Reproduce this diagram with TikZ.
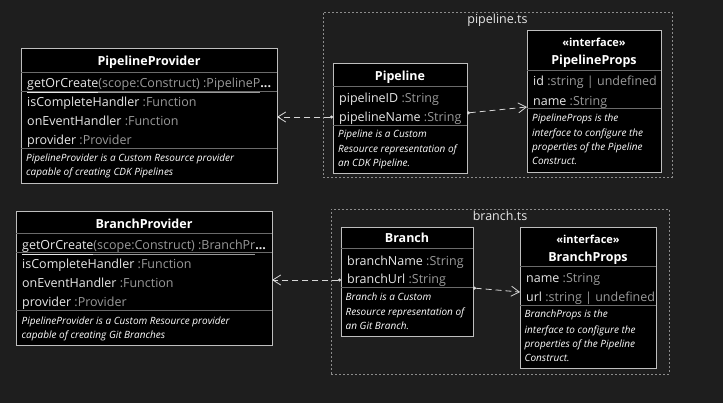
\documentclass[tikz,border=0pt]{standalone}
\usepackage{fontspec}
\setmainfont{Open Sans}
\usetikzlibrary{arrows.meta,calc}
\definecolor{bg}{HTML}{1E1E1E}
\definecolor{boxline}{HTML}{BEBEBE}
\definecolor{sepline}{HTML}{6A6A6A}
\definecolor{attrc}{HTML}{E8E8E8}
\definecolor{typ}{HTML}{9A9A9A}
\definecolor{pkg}{HTML}{8C8C8C}
\definecolor{conn}{HTML}{D8D8D8}
\begin{document}
\begin{tikzpicture}[x=1pt,y=-1pt,
  umlbox/.style={draw=boxline, fill=black, line width=0.9pt, inner sep=0pt, outer sep=0pt, anchor=north west},
  sep/.style={draw=sepline, line width=0.9pt},
  pkgbox/.style={draw=pkg, dash pattern=on 2pt off 2pt, line width=0.7pt, inner sep=0pt, outer sep=0pt, anchor=north west},
  ttl/.style={font=\fontsize{12.5}{14}\selectfont\bfseries, text=white, inner sep=0pt, anchor=base},
  attr/.style={font=\fontsize{12.5}{14}\selectfont, text=attrc, inner sep=0pt, anchor=base west},
  note/.style={font=\fontsize{10}{12}\selectfont\itshape, text=white, inner sep=0pt, anchor=base west},
  pkglabel/.style={font=\fontsize{12.5}{14}\selectfont, text=attrc, inner sep=0pt, anchor=base},
  dep/.style={draw=conn, line width=0.8pt, dash pattern=on 6pt off 4pt, {Circle[length=3pt]}-{Straight Barb[length=8pt,width=10pt]}},
]
\fill[bg] (0,0) rectangle (723,403);
\useasboundingbox (0,0) rectangle (723,403);

% ---------- packages ----------
\node[pkgbox, minimum width=349pt, minimum height=165pt] (pkgpl) at (323,12) {};
\node[pkglabel] (pkgpllbl) at (497.5,23.5) {pipeline.ts};
\node[pkgbox, minimum width=338pt, minimum height=165pt] (pkgbr) at (331,209) {};
\node[pkglabel] (pkgbrlbl) at (500,220.2) {branch.ts};

% ---------- PipelineProvider ----------
\node[umlbox, minimum width=256pt, minimum height=135pt] (pprov) at (21,48) {};
\draw[sep] (pprov.west |- 0,72) -- (pprov.east |- 0,72);
\draw[sep] (pprov.west |- 0,91) -- (pprov.east |- 0,91);
\draw[sep] (pprov.west |- 0,148) -- (pprov.east |- 0,148);
\node[ttl] (pprovt) at (149,65.2) {PipelineProvider};
\node[attr] (pprova) at (27,87.5) {\underline{getOrCreate\vphantom{()}}\textcolor{typ}{\underline{(scope:Construct) :PipelineP}}\textbf{...}};
\node[attr] (pprovb) at (27,106.2) {isCompleteHandler \textcolor{typ}{:Function}};
\node[attr] (pprovc) at (27,125.2) {onEventHandler \textcolor{typ}{:Function}};
\node[attr] (pprovd) at (27,144.5) {provider \textcolor{typ}{:Provider}};
\node[note] (pprovn1) at (26,161.9) {PipelineProvider is a Custom Resource provider};
\node[note] (pprovn2) at (26,175.9) {capable of creating CDK Pipelines};

% ---------- Pipeline ----------
\node[umlbox, minimum width=134pt, minimum height=110pt] (pl) at (333,63) {};
\draw[sep] (pl.west |- 0,86) -- (pl.east |- 0,86);
\draw[sep] (pl.west |- 0,125) -- (pl.east |- 0,125);
\node[ttl] (plt) at (400,80.2) {Pipeline};
\node[attr] (pla) at (339,102.2) {pipelineID \textcolor{typ}{:String}};
\node[attr] (plb) at (339,121.2) {pipelineName \textcolor{typ}{:String}};
\node[note] (pln1) at (338,137.9) {Pipeline is a Custom};
\node[note] (pln2) at (338,152.6) {Resource representation of};
\node[note] (pln3) at (338,166.9) {an CDK Pipeline.};

% ---------- PipelineProps ----------
\node[umlbox, minimum width=134pt, minimum height=142pt] (pps) at (527,30) {};
\draw[sep] (pps.west |- 0,70) -- (pps.east |- 0,70);
\draw[sep] (pps.west |- 0,108.3) -- (pps.east |- 0,108.3);
\node[ttl, font=\fontsize{11}{13}\selectfont\bfseries] (ppst1) at (594,46.8) {«interface»};
\node[ttl] (ppst2) at (594,64.5) {PipelineProps};
\node[attr] (ppsa) at (533,85.5) {id \textcolor{typ}{:string | undefined}};
\node[attr] (ppsb) at (533,105.2) {name \textcolor{typ}{:String}};
\node[note] (ppsn1) at (532,121.9) {PipelineProps is the};
\node[note] (ppsn2) at (532,136.3) {interface to configure the};
\node[note] (ppsn3) at (532,150.3) {properties of the Pipeline};
\node[note] (ppsn4) at (532,164.9) {Construct.};

% ---------- BranchProvider ----------
\node[umlbox, minimum width=256pt, minimum height=134pt] (bprov) at (16,211) {};
\draw[sep] (bprov.west |- 0,233.3) -- (bprov.east |- 0,233.3);
\draw[sep] (bprov.west |- 0,252.7) -- (bprov.east |- 0,252.7);
\draw[sep] (bprov.west |- 0,310) -- (bprov.east |- 0,310);
\node[ttl] (bprovt) at (144,228.5) {BranchProvider};
\node[attr] (bprova) at (22,249.5) {\underline{getOrCreate\vphantom{()}}\textcolor{typ}{\underline{(scope:Construct) :BranchPr}}\textbf{...}};
\node[attr] (bprovb) at (22,268.8) {isCompleteHandler \textcolor{typ}{:Function}};
\node[attr] (bprovc) at (22,287.8) {onEventHandler \textcolor{typ}{:Function}};
\node[attr] (bprovd) at (22,306.2) {provider \textcolor{typ}{:Provider}};
\node[note] (bprovn1) at (21.5,324.3) {PipelineProvider is a Custom Resource provider};
\node[note] (bprovn2) at (21.5,338.6) {capable of creating Git Branches};

% ---------- Branch ----------
\node[umlbox, minimum width=132pt, minimum height=109pt] (br) at (341,227) {};
\draw[sep] (br.west |- 0,248.3) -- (br.east |- 0,248.3);
\draw[sep] (br.west |- 0,287.3) -- (br.east |- 0,287.3);
\node[ttl] (brt) at (407,242.8) {Branch};
\node[attr] (bra) at (347,265.2) {branchName \textcolor{typ}{:String}};
\node[attr] (brb) at (347,283.8) {branchUrl \textcolor{typ}{:String}};
\node[note] (brn1) at (345.5,300.3) {Branch is a Custom};
\node[note] (brn2) at (345.5,315.3) {Resource representation of};
\node[note] (brn3) at (345.5,329.3) {an Git Branch.};

% ---------- BranchProps ----------
\node[umlbox, minimum width=136pt, minimum height=141pt] (bps) at (520,227) {};
\draw[sep] (bps.west |- 0,266.7) -- (bps.east |- 0,266.7);
\draw[sep] (bps.west |- 0,305.7) -- (bps.east |- 0,305.7);
\node[ttl, font=\fontsize{11}{13}\selectfont\bfseries] (bpst1) at (588,243.8) {«interface»};
\node[ttl] (bpst2) at (588,261.2) {BranchProps};
\node[attr] (bpsa) at (526,282.8) {name \textcolor{typ}{:String}};
\node[attr] (bpsb) at (526,301.8) {url \textcolor{typ}{:string | undefined}};
\node[note] (bpsn1) at (524.5,317.9) {BranchProps is the};
\node[note] (bpsn2) at (524.5,333.6) {interface to configure the};
\node[note] (bpsn3) at (524.5,347.9) {properties of the Pipeline};
\node[note] (bpsn4) at (524.5,361.9) {Construct.};

% ---------- connectors ----------
\draw[dep] (pl.west |- 0,117) -- (pprov.east |- 0,117);
\draw[dep] (pl.east |- 0,113) -- (pps.west |- 0,107);
\draw[dep] (br.west |- 0,280) -- (bprov.east |- 0,280);
\draw[dep] (br.east |- 0,288) -- (bps.west |- 0,292);
\end{tikzpicture}
\end{document}
